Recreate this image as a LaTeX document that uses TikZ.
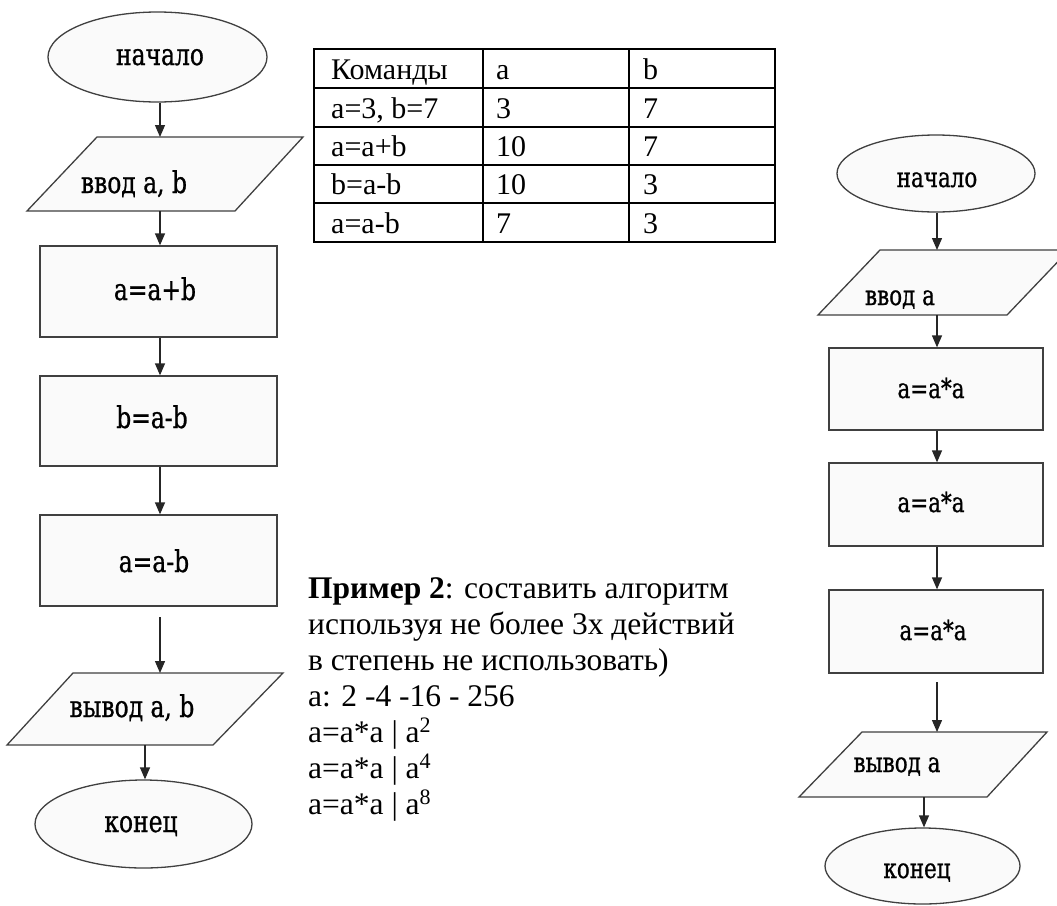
\documentclass[tikz,border=0pt]{standalone}
\usepackage{fontspec}
\setmainfont{Liberation Serif}
\newfontfamily\fcfont[FakeStretch=0.78,FakeBold=0.8]{DejaVu Serif}
\usetikzlibrary{shapes.geometric,arrows.meta}
\begin{document}
\begin{tikzpicture}[x=1pt,y=-1pt,
  blk/.style={draw=black!75, fill=black!2, line width=1.3pt},
  term/.style={blk, ellipse, inner sep=0pt},
  proc/.style={blk, rectangle, inner sep=0pt},
  lab/.style={anchor=base, inner sep=0pt, font=\fcfont\fontsize{30}{34}\selectfont},
  labr/.style={anchor=base, inner sep=0pt, font=\fcfont\fontsize{27.5}{31}\selectfont},
  arr/.style={draw=black!85, line width=1.3pt, -{Triangle[width=10pt,length=12pt]}},
  tline/.style={line width=1.6pt},
  tcell/.style={anchor=base west, inner sep=0pt, font=\fontsize{30}{34}\selectfont},
  txt/.style={anchor=base west, inner sep=0pt, font=\fontsize{31.5}{36}\selectfont},
]
\useasboundingbox (0,0) rectangle (1057,905);
\clip (0,0) rectangle (1057,905);
\fill[white] (0,0) rectangle (1057,905);

% ---------- left flowchart ----------
\coordinate (LX) at (160,0);
\node[term, minimum width=219pt, minimum height=90pt] (s1) at (157.5,57) {};
\node[lab] (s1t) at (160,65) {начало};

\draw[blk] (97,137) -- (303,137) -- (235,211) -- (27,211) -- cycle;
\coordinate (p1n) at (160,137);
\coordinate (p1s) at (160,211);
\node[lab] (p1t) at (134,193) {ввод a, b};

\node[proc, minimum width=237pt, minimum height=91pt] (r1) at (158.5,291.5) {};
\node[lab] (r1t) at (155,300) {a=a+b};
\node[proc, minimum width=237pt, minimum height=90pt] (r2) at (158.5,421) {};
\node[lab] (r2t) at (152,428) {b=a-b};
\node[proc, minimum width=237pt, minimum height=91pt] (r3) at (158.5,560.5) {};
\node[lab] (r3t) at (154,572) {a=a-b};

\draw[blk] (73,673) -- (283,673) -- (213,745) -- (7,745) -- cycle;
\coordinate (o1s0) at (160,617);
\coordinate (o1n) at (160,673);
\coordinate (o1s) at (145,745);
\node[lab] (o1t) at (132,717) {вывод a, b};

\node[term, minimum width=217pt, minimum height=88pt] (e1) at (143.5,824) {};
\node[lab] (e1t) at (141,832) {конец};

\draw[arr] (s1.south -| LX) -- (p1n);
\draw[arr] (p1s) -- (r1.north -| LX);
\draw[arr] (r1.south -| LX) -- (r2.north -| LX);
\draw[arr] (r2.south -| LX) -- (r3.north -| LX);
\draw[arr] (o1s0) -- (o1n);
\draw[arr] (o1s) -- (e1.north -| o1s);

% ---------- table ----------
\draw[tline] (314,49) rectangle (775,242);
\foreach \yy in {88,127,165,203} \draw[tline] (314,\yy) -- (775,\yy);
\draw[tline] (483,49) -- (483,242);
\draw[tline] (629,49) -- (629,242);
\node[tcell] (c11) at (331,79.5) {Команды};
\node[tcell] (c12) at (496,79.5) {a};
\node[tcell] (c13) at (643,79.5) {b};
\node[tcell] (c21) at (331,118.5) {a=3, b=7};
\node[tcell] (c22) at (496,118.5) {3};
\node[tcell] (c23) at (643,118.5) {7};
\node[tcell] (c31) at (331,156.5) {a=a+b};
\node[tcell] (c32) at (496,156.5) {10};
\node[tcell] (c33) at (643,156.5) {7};
\node[tcell] (c41) at (331,194.5) {b=a-b};
\node[tcell] (c42) at (496,194.5) {10};
\node[tcell] (c43) at (643,194.5) {3};
\node[tcell] (c51) at (331,233.5) {a=a-b};
\node[tcell] (c52) at (496,233.5) {7};
\node[tcell] (c53) at (643,233.5) {3};

% ---------- text block ----------
\node[txt] (t1) at (308,598) {\textbf{Пример 2}: составить алгоритм};
\node[txt] (t2) at (308,634) {используя не более 3х действий};
\node[txt] (t3) at (308,670) {в степень не использовать)};
\node[txt] (t4) at (308,706) {a: 2 -4 -16 - 256};
\node[txt] (t5) at (308,742) {a=a*a | a\textsuperscript{2}};
\node[txt] (t6) at (308,778) {a=a*a | a\textsuperscript{4}};
\node[txt] (t7) at (308,814) {a=a*a | a\textsuperscript{8}};

% ---------- right flowchart ----------
\coordinate (RX) at (937,0);
\node[term, minimum width=198pt, minimum height=77pt] (s2) at (936,173.5) {};
\node[labr] (s2t) at (937,187) {начало};

\draw[blk] (880,250) -- (1069,250) -- (1007,315) -- (818,315) -- cycle;
\coordinate (p2n) at (937,250);
\coordinate (p2s) at (937,315);
\node[labr] (p2t) at (900,305) {ввод a};

\node[proc, minimum width=214pt, minimum height=82pt] (q1) at (936,389) {};
\node[labr] (q1t) at (931,398) {a=a*a};
\node[proc, minimum width=214pt, minimum height=83pt] (q2) at (936,504.5) {};
\node[labr] (q2t) at (931,512) {a=a*a};
\node[proc, minimum width=214pt, minimum height=83pt] (q3) at (936,631.5) {};
\node[labr] (q3t) at (933,640) {a=a*a};

\draw[blk] (862,732) -- (1047,732) -- (987,797) -- (799,797) -- cycle;
\coordinate (o2s0) at (937,682);
\coordinate (o2n) at (937,732);
\coordinate (o2s) at (924,797);
\node[labr] (o2t) at (897,772) {вывод a};

\node[term, minimum width=195pt, minimum height=76pt] (e2) at (922.5,866) {};
\node[labr] (e2t) at (917,878) {конец};

\draw[arr] (s2.south -| RX) -- (p2n);
\draw[arr] (p2s) -- (q1.north -| RX);
\draw[arr] (q1.south -| RX) -- (q2.north -| RX);
\draw[arr] (q2.south -| RX) -- (q3.north -| RX);
\draw[arr] (o2s0) -- (o2n);
\draw[arr] (o2s) -- (e2.north -| o2s);
\end{tikzpicture}
\end{document}
